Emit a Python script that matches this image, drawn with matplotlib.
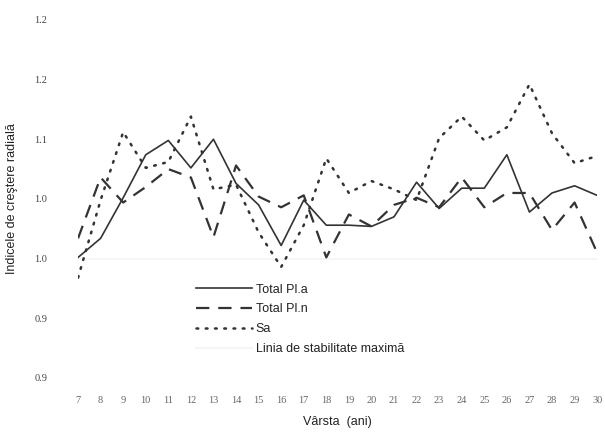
# -*- coding: utf-8 -*-
# Indicele de crestere radiala pe varste
import numpy as np
import matplotlib
matplotlib.use('Agg')
import matplotlib.pyplot as plt

varsta = list(range(7, 31))

total_pla = [1.001, 1.017, 1.051, 1.087, 1.099, 1.076, 1.100, 1.063, 1.045, 1.011, 1.049, 1.028,
             1.028, 1.027, 1.035, 1.064, 1.042, 1.059, 1.059, 1.087, 1.039, 1.055, 1.061, 1.053]
total_pln = [1.017, 1.068, 1.047, 1.060, 1.075, 1.068, 1.018, 1.078, 1.052, 1.043, 1.053, 1.001,
             1.037, 1.027, 1.045, 1.051, 1.043, 1.068, 1.043, 1.055, 1.055, 1.024, 1.047, 1.005]
sa = [0.984, 1.049, 1.106, 1.076, 1.081, 1.119, 1.058, 1.062, 1.022, 0.993, 1.028, 1.084,
      1.055, 1.065, 1.058, 1.049, 1.101, 1.119, 1.099, 1.110, 1.146, 1.105, 1.080, 1.086]
stabilitate = [1.0] * len(varsta)

y_ticks = [0.9, 0.95, 1.0, 1.05, 1.1, 1.15, 1.2]
y_labels = ['0.9', '0.9', '1.0', '1.0', '1.1', '1.2', '1.2']

plt.rcParams['font.family'] = ['Liberation Sans', 'DejaVu Sans']

fig = plt.figure(figsize=(6.05, 4.32), dpi=100)
ax = fig.add_axes([0.129, 0.125, 0.858, 0.829])

c = '#333333'
ax.plot(varsta, stabilitate, color='#f6f6f6', lw=1.5, label='Linia de stabilitate maximă', zorder=1)
ax.plot(varsta, total_pla, color=c, lw=1.2, label='Total Pl.a', zorder=3)
ax.plot(varsta, total_pln, color=c, lw=1.6, dashes=(6, 4), label='Total Pl.n', zorder=3)
ax.plot(varsta, sa, color=c, lw=1.8, dashes=(0.7, 3.0), dash_capstyle='round',
        label='Sa', zorder=3)

ax.set_xlim(7, 30)
ax.set_ylim(0.9, 1.2)
ax.set_xticks(varsta)
ax.set_xticklabels([str(v) for v in varsta], family='Liberation Serif', fontsize=7.5, color='#666666')
ax.set_yticks(y_ticks)
ax.set_yticklabels(y_labels, family='Liberation Serif', fontsize=7.5, color='#444444')
ax.tick_params(axis='both', length=0)
ax.tick_params(axis='x', pad=13)
ax.tick_params(axis='y', pad=22)
for s in ax.spines.values():
    s.set_visible(False)

ax.set_ylabel('Indicele de creştere radială', fontsize=9, color='#222222', labelpad=2)
ax.yaxis.set_label_coords(-0.115, 0.5)
ax.set_xlabel('Vârsta  (ani)', fontsize=9, color='#222222', labelpad=8)

h, l = ax.get_legend_handles_labels()
order = [1, 2, 3, 0]
leg = fig.legend([h[i] for i in order], [l[i] for i in order], loc='upper left',
                 bbox_to_anchor=(0.315, 0.355), frameon=False, fontsize=9,
                 handlelength=4.5, handletextpad=0.3, labelspacing=0.62, borderaxespad=0)
for t in leg.get_texts():
    t.set_color('#222222')

fig.savefig('out.png', dpi=100)
